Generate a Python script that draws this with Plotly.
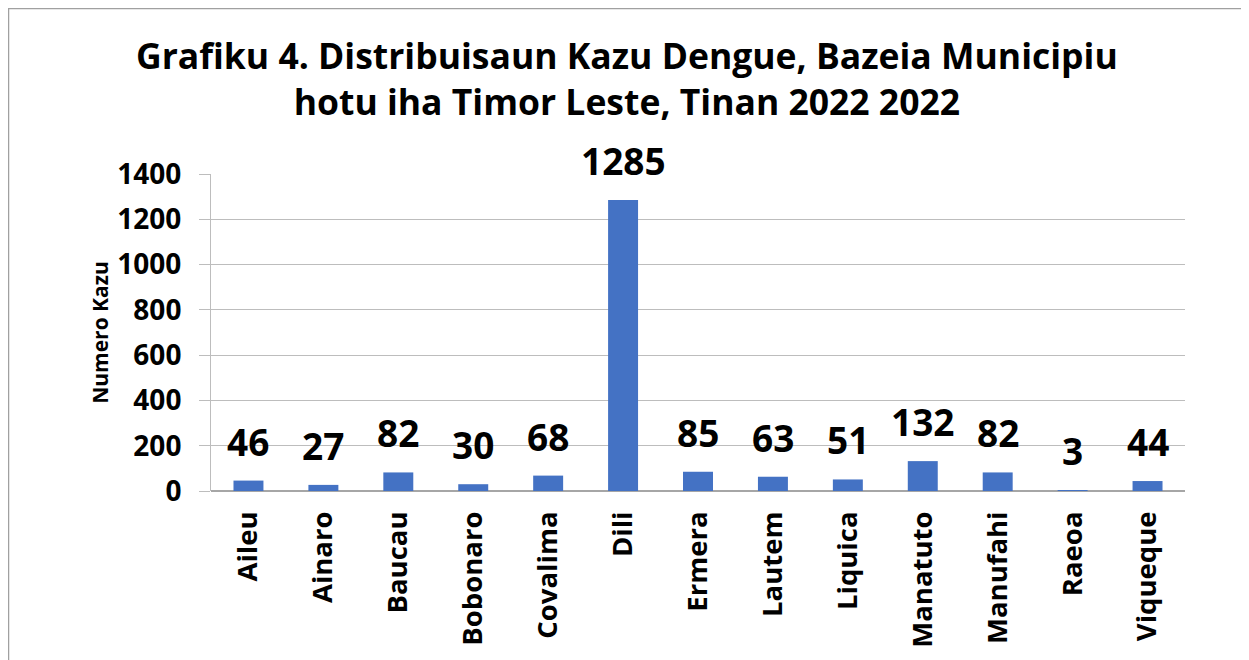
import plotly.graph_objects as go

municipios = ["Aileu", "Ainaro", "Baucau", "Bobonaro", "Covalima", "Dili", "Ermera",
              "Lautem", "Liquica", "Manatuto", "Manufahi", "Raeoa", "Viqueque"]
kazu = [46, 27, 82, 30, 68, 1285, 85, 63, 51, 132, 82, 3, 44]
y_ticks = [0, 200, 400, 600, 800, 1000, 1200, 1400]

# page places the figure 8px in from the top-left corner
OFF = 8
W, H = 1249 - OFF, 660 - OFF
L = 211 - OFF
R = 1249 - 1185
T = 174 - OFF
B = 660 - 491
pw, ph = W - L - R, H - T - B
FONT = "Open Sans"

def px2x(p):
    return (p - OFF - L) / pw

def px2y(p):
    return (H - B - (p - OFF)) / ph

fig = go.Figure()
fig.add_trace(go.Bar(x=municipios, y=kazu, marker_color="#4472C4",
                     marker_line_width=0, hoverinfo="x+y"))

for m, v in zip(municipios, kazu):
    fig.add_annotation(x=m, y=v, text=str(v), showarrow=False,
                       yanchor="bottom", yshift=12,
                       font=dict(family=FONT, size=37, color="black", weight="bold"))

fig.add_annotation(xref="paper", yref="paper", x=px2x(627), y=px2y(78),
                   xanchor="center", yanchor="middle", showarrow=False,
                   text="Grafiku 4. Distribuisaun Kazu Dengue, Bazeia Municipiu<br>hotu iha Timor Leste, Tinan 2022 2022",
                   font=dict(family=FONT, size=35.5, color="black", weight="bold"))

fig.add_shape(type="rect", xref="paper", yref="paper",
              x0=px2x(8.5), x1=px2x(1245), y0=px2y(675), y1=px2y(8.5),
              line=dict(color="#A0A0A0", width=1.5), fillcolor="rgba(0,0,0,0)", layer="below")

fig.update_layout(
    width=W, height=H,
    margin=dict(l=L, r=R, t=T, b=B, autoexpand=False),
    paper_bgcolor="white", plot_bgcolor="white",
    bargap=0.6,
    showlegend=False,
    font=dict(family=FONT, color="black"),
)
fig.update_xaxes(tickangle=-90, tickfont=dict(family=FONT, size=27.5, color="black", weight="bold"),
                 ticklabelstandoff=14, showline=False, showgrid=False, automargin=False)
fig.update_yaxes(range=[0, 1400], tickvals=y_ticks, automargin=False,
                 tickfont=dict(family=FONT, size=28, color="black", weight="bold"),
                 ticklabelstandoff=12,
                 showgrid=True, gridcolor="#BDBDBD", gridwidth=1,
                 showline=True, linecolor="#BDBDBD", linewidth=1,
                 ticks="outside", ticklen=11, tickcolor="#BDBDBD",
                 zeroline=True, zerolinecolor="#A6A6A6", zerolinewidth=1.5,
                 title=dict(text="Numero Kazu", standoff=3,
                            font=dict(family=FONT, size=21, color="black", weight="bold")))

fig.write_html("out.html")
